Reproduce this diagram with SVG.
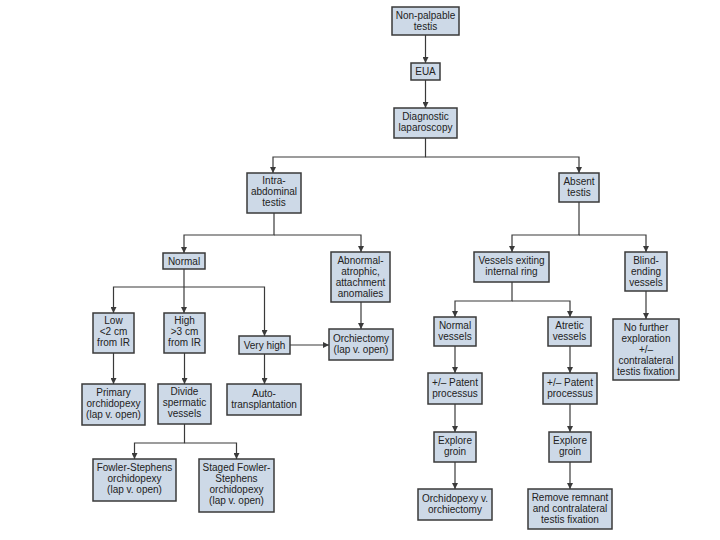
<svg xmlns="http://www.w3.org/2000/svg" width="720" height="540" viewBox="0 0 720 540">
<style>
.box{fill:#cdd9e7;stroke:#3a3a3a;stroke-width:1.5}
.t{font-family:"Liberation Sans",Arial,sans-serif;font-size:10px;fill:#222;text-anchor:middle}
.c{fill:none;stroke:#3a3a3a;stroke-width:1.2}
</style>
<defs>
<marker id="a" viewBox="0 0 10 10" refX="10" refY="5" markerWidth="6" markerHeight="6" markerUnits="userSpaceOnUse" orient="auto">
<path d="M0,0 L10,5 L0,10 z" fill="#3a3a3a"/>
</marker>
</defs>
<rect width="720" height="540" fill="#fff"/>
<g id="connectors">
<path class="c" d="M425.5,35 V63" marker-end="url(#a)"/>
<path class="c" d="M425.5,80 V108" marker-end="url(#a)"/>
<path class="c" d="M425.5,138 V157 H273 V173" marker-end="url(#a)"/>
<path class="c" d="M425.5,157 H579 V173" marker-end="url(#a)"/>
<path class="c" d="M274,213 V235 H184 V253" marker-end="url(#a)"/>
<path class="c" d="M274,235 H361 V252" marker-end="url(#a)"/>
<path class="c" d="M184,269 V313" marker-end="url(#a)"/>
<path class="c" d="M184,287 H113.5 V313" marker-end="url(#a)"/>
<path class="c" d="M184,287 H264.5 V336" marker-end="url(#a)"/>
<path class="c" d="M361,302 V329" marker-end="url(#a)"/>
<path class="c" d="M290,345 H329" marker-end="url(#a)"/>
<path class="c" d="M113.5,353 V384" marker-end="url(#a)"/>
<path class="c" d="M184.5,353 V384" marker-end="url(#a)"/>
<path class="c" d="M264.5,354 V384" marker-end="url(#a)"/>
<path class="c" d="M184.5,424 V443 H134.5 V459" marker-end="url(#a)"/>
<path class="c" d="M184.5,443 H236.5 V459" marker-end="url(#a)"/>
<path class="c" d="M579,202 V235 H512 V252" marker-end="url(#a)"/>
<path class="c" d="M579,235 H646 V252" marker-end="url(#a)"/>
<path class="c" d="M512,282 V301 H455 V317" marker-end="url(#a)"/>
<path class="c" d="M512,301 H570 V317" marker-end="url(#a)"/>
<path class="c" d="M646,291 V319" marker-end="url(#a)"/>
<path class="c" d="M455,346 V373" marker-end="url(#a)"/>
<path class="c" d="M455,404 V432" marker-end="url(#a)"/>
<path class="c" d="M455,462 V489" marker-end="url(#a)"/>
<path class="c" d="M570,346 V373" marker-end="url(#a)"/>
<path class="c" d="M570,404 V432" marker-end="url(#a)"/>
<path class="c" d="M570,462 V489" marker-end="url(#a)"/>
</g>
<g id="nonpalpable"><rect class="box" x="392" y="7" width="67" height="28"/><text class="t" x="425.5" y="19">Non-palpable</text><text class="t" x="425.5" y="30">testis</text></g>
<g id="eua"><rect class="box" x="411" y="63" width="29" height="17"/><text class="t" x="425.5" y="75">EUA</text></g>
<g id="laparoscopy"><rect class="box" x="394" y="108" width="63" height="30"/><text class="t" x="425.5" y="120">Diagnostic</text><text class="t" x="425.5" y="131">laparoscopy</text></g>
<g id="intraabdominal"><rect class="box" x="247" y="173" width="54" height="40"/><text class="t" x="274" y="184">Intra-</text><text class="t" x="274" y="195">abdominal</text><text class="t" x="274" y="206">testis</text></g>
<g id="absent"><rect class="box" x="559" y="173" width="40" height="29"/><text class="t" x="579" y="185">Absent</text><text class="t" x="579" y="196">testis</text></g>
<g id="normal"><rect class="box" x="163" y="253" width="42" height="16"/><text class="t" x="184" y="264.5">Normal</text></g>
<g id="abnormal"><rect class="box" x="331" y="252" width="59" height="50"/><text class="t" x="360.5" y="264">Abnormal-</text><text class="t" x="360.5" y="275">atrophic,</text><text class="t" x="360.5" y="286">attachment</text><text class="t" x="360.5" y="297">anomalies</text></g>
<g id="low"><rect class="box" x="93" y="313" width="41" height="40"/><text class="t" x="113.5" y="324">Low</text><text class="t" x="113.5" y="335">&lt;2 cm</text><text class="t" x="113.5" y="346">from IR</text></g>
<g id="high"><rect class="box" x="164" y="313" width="41" height="40"/><text class="t" x="184.5" y="324">High</text><text class="t" x="184.5" y="335">&gt;3 cm</text><text class="t" x="184.5" y="346">from IR</text></g>
<g id="veryhigh"><rect class="box" x="239" y="336" width="51" height="18"/><text class="t" x="264.5" y="348.5">Very high</text></g>
<g id="orchiectomy"><rect class="box" x="329" y="329" width="64" height="31"/><text class="t" x="361" y="341.5">Orchiectomy</text><text class="t" x="361" y="352.5">(lap v. open)</text></g>
<g id="primary"><rect class="box" x="82" y="384" width="63" height="41"/><text class="t" x="113.5" y="395.5">Primary</text><text class="t" x="113.5" y="406.5">orchidopexy</text><text class="t" x="113.5" y="417.5">(lap v. open)</text></g>
<g id="divide"><rect class="box" x="158" y="384" width="53" height="40"/><text class="t" x="184.5" y="395">Divide</text><text class="t" x="184.5" y="406">spermatic</text><text class="t" x="184.5" y="417">vessels</text></g>
<g id="auto"><rect class="box" x="227" y="384" width="74" height="31"/><text class="t" x="264" y="396.5">Auto-</text><text class="t" x="264" y="407.5">transplantation</text></g>
<g id="fowler"><rect class="box" x="93" y="459" width="83" height="42"/><text class="t" x="134.5" y="471">Fowler-Stephens</text><text class="t" x="134.5" y="482">orchidopexy</text><text class="t" x="134.5" y="493">(lap v. open)</text></g>
<g id="staged"><rect class="box" x="199" y="459" width="75" height="53"/><text class="t" x="236.5" y="471">Staged Fowler-</text><text class="t" x="236.5" y="482">Stephens</text><text class="t" x="236.5" y="493">orchidopexy</text><text class="t" x="236.5" y="504">(lap v. open)</text></g>
<g id="vesselsexiting"><rect class="box" x="474" y="252" width="75" height="30"/><text class="t" x="511.5" y="264">Vessels exiting</text><text class="t" x="511.5" y="275">internal ring</text></g>
<g id="blind"><rect class="box" x="625" y="252" width="42" height="39"/><text class="t" x="646" y="263.5">Blind-</text><text class="t" x="646" y="274.5">ending</text><text class="t" x="646" y="285.5">vessels</text></g>
<g id="normalvessels"><rect class="box" x="434" y="317" width="42" height="29"/><text class="t" x="455" y="329">Normal</text><text class="t" x="455" y="340">vessels</text></g>
<g id="atretic"><rect class="box" x="548" y="317" width="43" height="29"/><text class="t" x="569.5" y="329">Atretic</text><text class="t" x="569.5" y="340">vessels</text></g>
<g id="nofurther"><rect class="box" x="613" y="319" width="66" height="61"/><text class="t" x="646" y="331">No further</text><text class="t" x="646" y="342">exploration</text><text class="t" x="646" y="353">+/–</text><text class="t" x="646" y="364">contralateral</text><text class="t" x="646" y="375">testis fixation</text></g>
<g id="patentL"><rect class="box" x="428" y="373" width="54" height="31"/><text class="t" x="455" y="385.5">+/– Patent</text><text class="t" x="455" y="396.5">processus</text></g>
<g id="patentR"><rect class="box" x="543" y="373" width="54" height="31"/><text class="t" x="570" y="385.5">+/– Patent</text><text class="t" x="570" y="396.5">processus</text></g>
<g id="exploreL"><rect class="box" x="434" y="432" width="42" height="30"/><text class="t" x="455" y="444">Explore</text><text class="t" x="455" y="455">groin</text></g>
<g id="exploreR"><rect class="box" x="549" y="432" width="42" height="30"/><text class="t" x="570" y="444">Explore</text><text class="t" x="570" y="455">groin</text></g>
<g id="orchidopexyv"><rect class="box" x="418" y="489" width="74" height="31"/><text class="t" x="455" y="501.5">Orchidopexy v.</text><text class="t" x="455" y="512.5">orchiectomy</text></g>
<g id="remove"><rect class="box" x="528" y="489" width="84" height="40"/><text class="t" x="570" y="500.5">Remove remnant</text><text class="t" x="570" y="511.5">and contralateral</text><text class="t" x="570" y="522.5">testis fixation</text></g>
</svg>
